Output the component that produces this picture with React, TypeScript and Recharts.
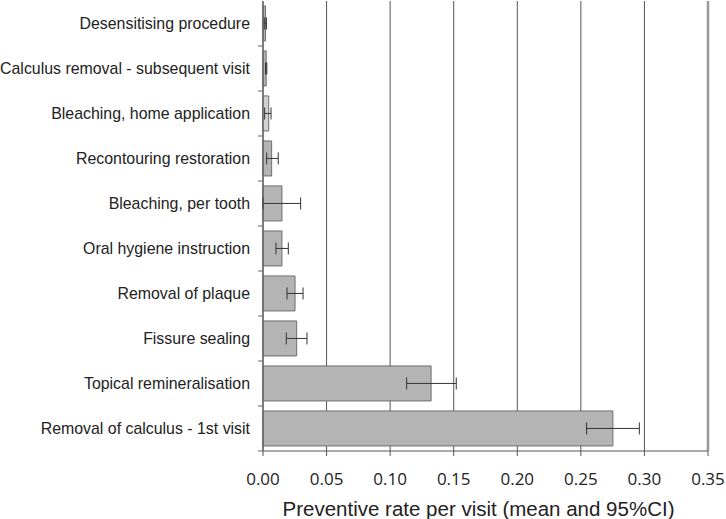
import { Bar, BarChart, CartesianGrid, Cell, ErrorBar, ReferenceLine, XAxis, YAxis } from "recharts";

const categories = [
  "Desensitising procedure",
  "Calculus removal - subsequent visit",
  "Bleaching, home application",
  "Recontouring restoration",
  "Bleaching, per tooth",
  "Oral hygiene instruction",
  "Removal of plaque",
  "Fissure sealing",
  "Topical remineralisation",
  "Removal of calculus - 1st visit",
];
const means = [0.002, 0.0025, 0.0045, 0.0068, 0.0149, 0.0149, 0.0252, 0.0265, 0.1322, 0.2752];
const lowers = [0.001, 0.002, 0.0013, 0.0029, 0.0, 0.0102, 0.0189, 0.0183, 0.113, 0.2545];
const uppers = [0.0027, 0.003, 0.0063, 0.012, 0.0296, 0.0199, 0.0315, 0.0346, 0.152, 0.296];
const fills = ["#b4b4b4", "#b4b4b4", "#d2d2d2", "#b4b4b4", "#b4b4b4", "#b4b4b4", "#b4b4b4", "#b4b4b4", "#b4b4b4", "#b4b4b4"];
const xTicks = [0, 0.05, 0.1, 0.15, 0.2, 0.25, 0.3, 0.35];

const data = categories.map((name, i) => ({
  name,
  mean: means[i],
  ci: [means[i] - lowers[i], uppers[i] - means[i]],
}));

// label + Excel-style tick mark between categories
const CategoryTick = (props: any) => {
  const { x, y, payload } = props;
  const half = 450 / categories.length / 2;
  return (
    <g>
      <text x={x - 5} y={y} textAnchor="end" dominantBaseline="central" fontSize={15.9} fill="#222" fontFamily="Liberation Sans, Arial, sans-serif">
        {payload.value}
      </text>
      <line x1={x + 3} x2={x + 8} y1={y + half} y2={y + half} stroke="#666" />
    </g>
  );
};

export default function App() {
  return (
    <div style={{ position: "absolute", left: 0, top: 0, background: "#fff" }}>
      <BarChart
        width={726}
        height={519}
        data={data}
        layout="vertical"
        barCategoryGap="11%"
        margin={{ top: 1, right: 18, bottom: 0, left: 0 }}
      >
        <CartesianGrid horizontal={false} stroke="#555" />
        <XAxis
          type="number"
          domain={[0, 0.35]}
          ticks={xTicks}
          tickFormatter={(v) => v.toFixed(2)}
          stroke="#555"
          tickSize={5}
          height={68}
          tick={{ fill: "#222", fontSize: 17, fontFamily: "Open Sans, sans-serif", dy: 15 }}
          label={{ value: "Preventive rate per visit (mean and 95%CI)", position: "insideBottom", offset: 3, dx: -7, fill: "#222", fontSize: 20.5, fontFamily: "Liberation Sans, Arial, sans-serif" }}
        />
        <XAxis xAxisId="top" type="number" orientation="top" domain={[0, 0.35]} tick={false} tickLine={false} height={0} stroke="#888" />
        <YAxis type="category" dataKey="name" width={263} stroke="#555" tickLine={false} tick={<CategoryTick />} interval={0} />
        <ReferenceLine x={0.35} stroke="#999" strokeWidth={2.5} />
        <Bar dataKey="mean" stroke="#6e6e6e" strokeWidth={1} isAnimationActive={false}>
          {data.map((d, i) => (
            <Cell key={d.name} fill={fills[i]} />
          ))}
          <ErrorBar dataKey="ci" direction="x" width={6} stroke="#333" strokeWidth={1} />
        </Bar>
      </BarChart>
    </div>
  );
}
